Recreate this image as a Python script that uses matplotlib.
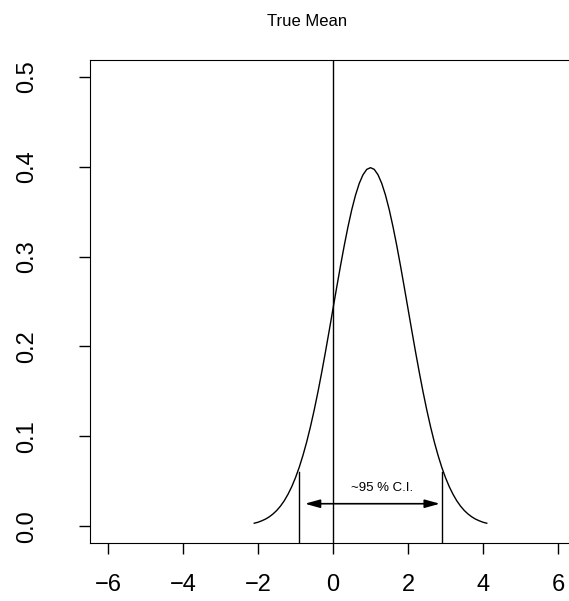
import matplotlib
matplotlib.use("Agg")
import matplotlib.pyplot as plt

# density curve (x step 0.1)
x_vals = [round(-2.1 + 0.1 * i, 1) for i in range(63)]
dens_half = [0.0033, 0.0044, 0.0060, 0.0079, 0.0104, 0.0136, 0.0175, 0.0224,
             0.0283, 0.0355, 0.0440, 0.0540, 0.0656, 0.0790, 0.0940, 0.1109,
             0.1295, 0.1497, 0.1714, 0.1942, 0.2179, 0.2420, 0.2661, 0.2897,
             0.3123, 0.3332, 0.3521, 0.3683, 0.3814, 0.3910, 0.3970]
peak = [0.3989]
y_vals = dens_half + peak + dens_half[::-1]

true_mean = 0
ci_lo, ci_hi = -0.9, 2.9
ci_top = 0.06
arrow_y = 0.025
arrow_from, arrow_to = -0.75, 2.85
x_ticks = [-6, -4, -2, 0, 2, 4, 6]
y_ticks = [0.0, 0.1, 0.2, 0.3, 0.4, 0.5]
y_labels = ["0.0", "0.1", "0.2", "0.3", "0.4", "0.5"]

plt.rcParams['font.family'] = ['Liberation Sans', 'DejaVu Sans']

fig = plt.figure(figsize=(5.69, 6.01), dpi=100)
ax = fig.add_axes([90/569, 58/601, 486/569, 483/601])

ax.plot(x_vals, y_vals, color='black', lw=1)
ax.axvline(true_mean, color='black', lw=1)
ax.plot([ci_lo, ci_lo], [-0.02, ci_top], color='black', lw=1)
ax.plot([ci_hi, ci_hi], [-0.02, ci_top], color='black', lw=1)
ax.annotate('', xy=(arrow_from, arrow_y), xytext=(arrow_to, arrow_y),
            arrowprops=dict(arrowstyle='<|-|>,head_length=0.9,head_width=0.25',
                            color='black', lw=1.2, shrinkA=0, shrinkB=0))
ax.text(1.3, 0.042, '~95 % C.I.', ha='center', va='center', fontsize=9.5)

ax.set_xlim(-6.48, 6.48)
ax.set_ylim(-0.0187, 0.5187)
ax.spines['right'].set_visible(False)
ax.set_xticks(x_ticks)
ax.set_xticklabels(['\u2212' + str(-t) if t < 0 else str(t) for t in x_ticks])
ax.set_yticks(y_ticks)
ax.set_yticklabels(y_labels, rotation=90, va='center')
ax.tick_params(axis='x', length=8, width=1, pad=14, labelsize=17)
ax.tick_params(axis='y', length=8, width=1, pad=29, labelsize=17)

fig.text(307/569, 1 - 22/601, 'True Mean', ha='center', va='center', fontsize=12)

fig.savefig('out.png', dpi=100)
